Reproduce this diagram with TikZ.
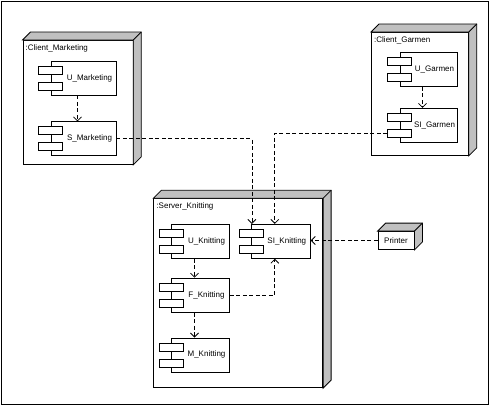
\documentclass[tikz,border=0pt]{standalone}
\usepackage{fontspec}
\setmainfont{Liberation Sans}
\usepackage{xcolor}
\usepackage{tikz}
\usetikzlibrary{arrows.meta,positioning,calc}
\definecolor{sidegray}{HTML}{C0C0C0}
\newcommand{\diafont}{\fontsize{8}{9.6}\selectfont}
\tikzset{
  devnode/.style={
    draw=black, line width=0.8pt, fill=white, anchor=north west,
    inner sep=0pt, font=\diafont
  },
  devface/.style={draw=black, line width=0.8pt, fill=sidegray},
  devtitle/.style={anchor=north west, inner sep=0pt, font=\diafont},
  comp/.style={
    draw=black, line width=0.8pt, fill=white, minimum width=58pt,
    minimum height=34pt, inner sep=1pt, font=\diafont,
    execute at begin node={\hspace*{12pt}}
  },
  compicon/.style={
    draw=black, line width=0.8pt, fill=white, minimum width=24pt,
    minimum height=8pt, inner sep=0pt
  },
  dep/.style={
    draw=black, line width=0.8pt, dash pattern=on 4pt off 2.5pt,
    -{Straight Barb[length=4pt, width=8pt]}
  },
}
\newcommand{\devdepth}[1]{%
  \draw[devface] (#1.north west) -- ++(8,-8) -| ($(#1.south east)+(8,-8)$)
    -- (#1.south east) -- (#1.north east) -- cycle;
  \draw[devface] (#1.north east) -- ++(8,-8);
}
\newcommand{\compicons}[1]{%
  \node[compicon] (#1-a) at ($(#1.west)+(0,-8)$) {};
  \node[compicon] (#1-b) at ($(#1.west)+(0,8)$) {};
}
\begin{document}
\begin{tikzpicture}[x=1pt, y=-1pt]
    \useasboundingbox (0,0) rectangle (489,405);
    \draw[line width=0.8pt] (1,1) rectangle (488,404);

    \node[devnode, minimum width=110pt, minimum height=124pt] (cm) at (22.5,40) {};
    \devdepth{cm}
    \node[devtitle] (cmt) at ($(cm.north west)+(3,4)$) {:Client\_Marketing};
    \node[comp, minimum width=65pt] (um) at (83.5,78) {U\_Marketing};
    \node[comp, minimum width=65pt, below=26pt of um] (sm) {S\_Marketing};
    \compicons{um}
    \compicons{sm}

    \node[devnode, minimum width=97pt, minimum height=123pt] (cg) at (371,32) {};
    \devdepth{cg}
    \node[devtitle] (cgt) at ($(cg.north west)+(3,4)$) {:Client\_Garmen};
    \node[comp, minimum width=57pt] (ug) at (428.5,69.5) {U\_Garmen};
    \node[comp, minimum width=57pt, below=21pt of ug] (sig) {SI\_Garmen};
    \compicons{ug}
    \compicons{sig}

    \node[devnode, minimum width=169pt, minimum height=189pt] (sk) at (153.3,198.3) {};
    \devdepth{sk}
    \node[devtitle] (skt) at ($(sk.north west)+(3,4)$) {:Server\_Knitting};
    \node[comp] (uk) at (200.5,241.3) {U\_Knitting};
    \node[comp, minimum width=59pt, right=21pt of uk] (sik) {SI\_Knitting};
    \node[comp, below=19pt of uk] (fk) {F\_Knitting};
    \node[comp, below=25pt of fk] (mk) {M\_Knitting};
    \compicons{uk}
    \compicons{sik}
    \compicons{fk}
    \compicons{mk}

    \node[devnode, anchor=center, minimum width=36pt, minimum height=18pt] (pr) at (396,240.5) {Printer};
    \devdepth{pr}

    \draw[dep] ([xshift=-6pt]um.south) -- ([xshift=-6pt]sm.north);
    \draw[dep] ([xshift=-6pt]ug.south) -- ([xshift=-6pt]sig.north);
    \draw[dep] ([xshift=-6pt]uk.south) -- ([xshift=-6pt]fk.north);
    \draw[dep] ([xshift=-6pt]fk.south) -- ([xshift=-6pt]mk.north);
    \draw[dep] (fk.east) -| ([xshift=-6pt]sik.south);
    \draw[dep] (sm.east) -| ([xshift=1pt]sik.north west);
    \draw[dep] (sig-b.west) -| ([xshift=-6pt]sik.north);
    \draw[dep] (pr.west) -- (pr.west -| sik.east);
\end{tikzpicture}
\end{document}
